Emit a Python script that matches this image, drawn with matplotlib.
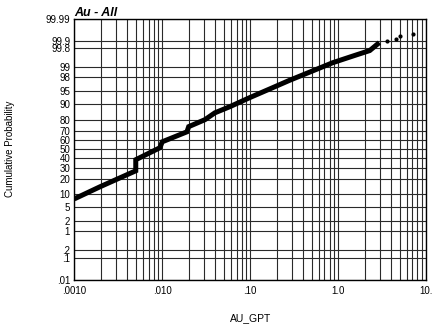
#!/usr/bin/env python

from statistics import NormalDist
import numpy as np
import matplotlib
matplotlib.use('Agg')
import matplotlib.pyplot as plt
from matplotlib.ticker import FixedLocator, LogLocator, NullFormatter

plt.rcParams['font.family'] = ['Liberation Sans', 'DejaVu Sans']

# AU_GPT value vs cumulative probability (%)
au_line = [0.0010, 0.00196, 0.0050, 0.0050, 0.0094, 0.0100, 0.0191, 0.0200,
           0.0306, 0.0397, 0.0587, 0.0988, 0.180, 0.280, 0.87, 1.63, 2.29, 2.95]
prob_line = [7.9, 14.3, 27.0, 38.3, 51.7, 58.4, 69.0, 74.0,
             80.0, 85.0, 88.7, 92.9, 96.0, 97.5, 99.31, 99.64, 99.75, 99.88]

# isolated high values at the top
au_dots = [3.63, 4.6, 5.1, 7.2]
prob_dots = [99.90, 99.918, 99.938, 99.95]

prob_ticks = [0.01, 0.1, 0.2, 1, 2, 5, 10, 20, 30, 40, 50, 60, 70, 80, 90,
              95, 98, 99, 99.8, 99.9, 99.99]
prob_labels = ['.01', '.1', '.2', '1', '2', '5', '10', '20', '30', '40', '50',
               '60', '70', '80', '90', '95', '98', '99', '99.8', '99.9', '99.99']
x_ticks = [0.001, 0.01, 0.1, 1.0, 10.0]
x_labels = ['.0010', '.010', '.10', '1.0', '10.']

_nd = NormalDist()
_ppf = np.vectorize(lambda p: _nd.inv_cdf(p), otypes=[float])
_cdf = np.vectorize(lambda z: _nd.cdf(z), otypes=[float])


def prob_forward(p):
    p = np.clip(np.asarray(p, dtype=float), 1e-7, 100 - 1e-7) / 100.0
    return _ppf(p)


def prob_inverse(z):
    return _cdf(np.asarray(z, dtype=float)) * 100.0


fig = plt.figure(figsize=(4.34, 3.27), dpi=100)
ax = fig.add_axes([0.1712, 0.1437, 0.8104, 0.7997])

ax.plot(au_line, prob_line, color='black', lw=3.6, solid_capstyle='butt',
        solid_joinstyle='miter', zorder=3)
ax.plot(au_dots, prob_dots, 'o', color='black', ms=3, mew=0, zorder=3)

ax.set_xscale('log')
ax.set_yscale('function', functions=(prob_forward, prob_inverse))
ax.set_xlim(0.001, 10)
ax.set_ylim(0.01, 99.99)

ax.xaxis.set_major_locator(FixedLocator(x_ticks))
ax.set_xticklabels(x_labels)
ax.xaxis.set_minor_locator(LogLocator(base=10, subs=np.arange(2, 10)))
ax.xaxis.set_minor_formatter(NullFormatter())
ax.yaxis.set_major_locator(FixedLocator(prob_ticks))
ax.set_yticklabels(prob_labels)
ax.yaxis.set_minor_locator(FixedLocator([]))

ax.grid(True, which='both', axis='x', color='#2a2a2a', lw=0.8)
ax.grid(True, which='major', axis='y', color='#2a2a2a', lw=0.8)
ax.tick_params(which='both', length=0, labelsize=7)
ax.tick_params(axis='x', pad=4)
ax.tick_params(axis='y', pad=3)
for s in ax.spines.values():
    s.set_linewidth(1.0)

ax.set_xlabel('AU_GPT', fontsize=7.5, labelpad=13)
ax.set_ylabel('Cumulative Probability', fontsize=7)
ax.yaxis.set_label_coords(-0.17, 0.5)
ax.set_title('Au - All', loc='left', fontsize=9, fontweight='bold',
             fontstyle='italic', pad=1.5)

fig.savefig('out.png', dpi=100)
